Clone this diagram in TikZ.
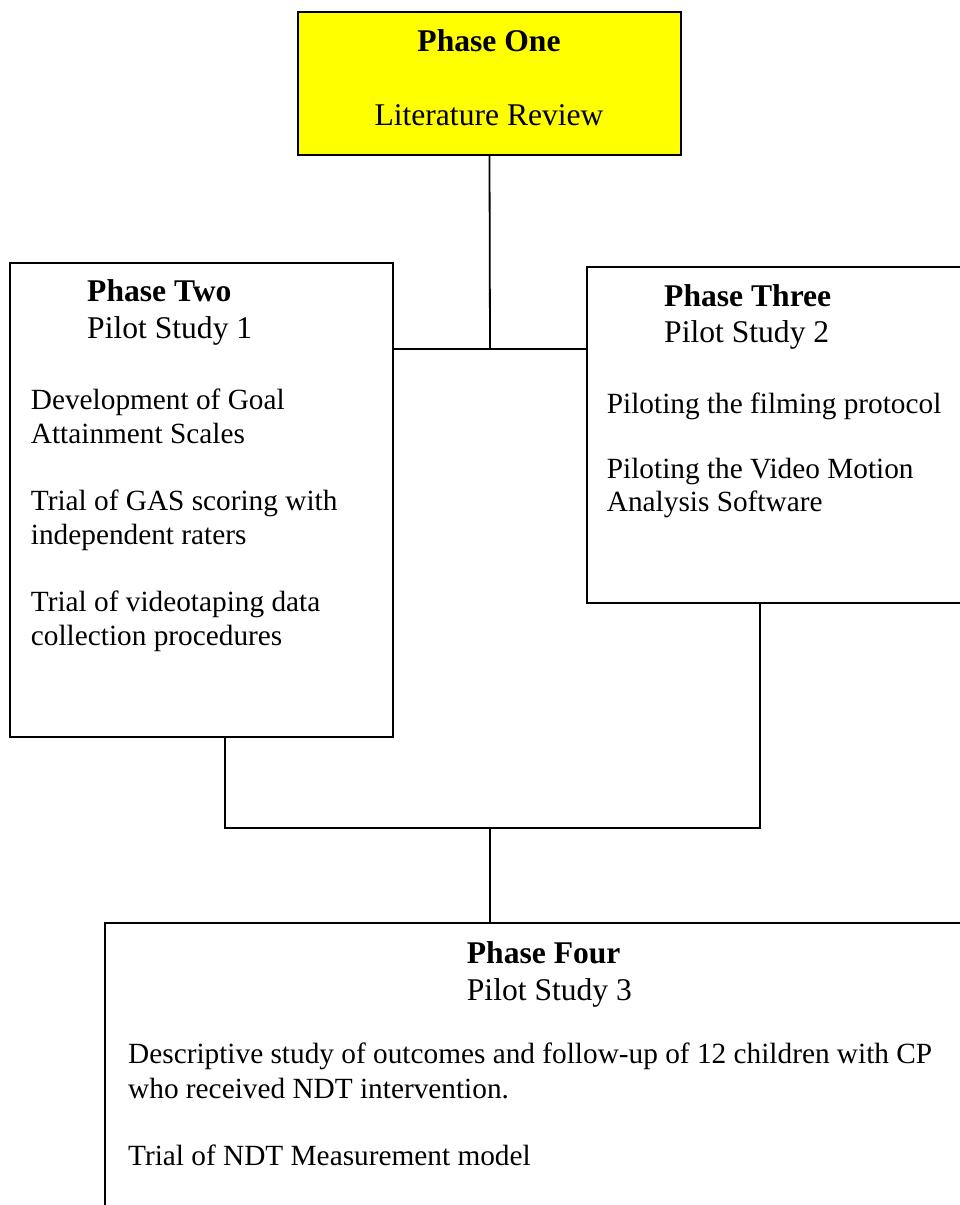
\documentclass[tikz,border=0pt]{standalone}
\usepackage{fontspec}
\setmainfont{Liberation Serif}
\newcommand{\fs}{\fontsize{31.6}{36}\selectfont}
\newcommand{\fb}{\fontsize{29.3}{34}\selectfont}
\definecolor{boxyellow}{RGB}{255,255,0}
\begin{document}
\begin{tikzpicture}[x=1pt,y=-1pt,
  box/.style={draw=black, line width=1.8pt, rectangle, inner sep=0pt},
  txt/.style={anchor=base west, inner sep=0pt, font=\fs},
  hd/.style={txt, font=\fs\bfseries},
  body/.style={txt, font=\fb},
  conn/.style={draw=black, line width=1.8pt}]
\useasboundingbox (0,0) rectangle (960,1205);
\clip (0,0) rectangle (960,1205);
\fill[white] (0,0) rectangle (960,1205);
% boxes
\node[box, fill=boxyellow, minimum width=383pt, minimum height=143pt] (p1) at (489.5,83.5) {};
\node[box, fill=white, minimum width=383pt, minimum height=474pt] (p2) at (201.5,500) {};
\node[box, fill=white, minimum width=388pt, minimum height=336pt] (p3) at (781,435) {};
\node[box, fill=white, minimum width=880pt, minimum height=302pt] (p4) at (545,1074) {};
% junctions
\coordinate (j1) at (490,349);
\coordinate (j2) at (490,828);
\coordinate (j2l) at (225,828);
\coordinate (j2r) at (760,828);
\draw[conn] (p1.south) -- (j1);
\draw[conn] (p2.east |- j1) -- (p3.west |- j1);
\draw[conn] (p2.south -| j2l) -- (j2l) -- (j2r) -- (p3.south -| j2r);
\draw[conn] (j2) -- (p4.north -| j2);
% Phase One
\node[hd, anchor=base] (t1a) at (489,51.7) {Phase One};
\node[txt, anchor=base] (t1b) at (489,125) {Literature Review};
% Phase Two
\node[hd] (t2a) at (87,301.7) {Phase Two};
\node[txt] (t2b) at (87,338.3) {Pilot Study 1};
\node[body] (t2c) at (30.7,409) {Development of Goal};
\node[body] (t2d) at (30.7,443) {Attainment Scales};
\node[body] (t2e) at (30.7,510) {Trial of GAS scoring with};
\node[body] (t2f) at (30.7,544) {independent raters};
\node[body] (t2g) at (30.7,611.7) {Trial of videotaping data};
\node[body] (t2h) at (30.7,645) {collection procedures};
% Phase Three
\node[hd] (t3a) at (664,306.7) {Phase Three};
\node[txt] (t3b) at (664,342.7) {Pilot Study 2};
\node[body] (t3c) at (606.7,413) {Piloting the filming protocol};
\node[body] (t3d) at (606.7,478) {Piloting the Video Motion};
\node[body] (t3e) at (606.7,511.7) {Analysis Software};
% Phase Four
\node[hd] (t4a) at (466.7,963) {Phase Four};
\node[txt] (t4b) at (466.7,1000) {Pilot Study 3};
\node[body] (t4c) at (128,1063) {Descriptive study of outcomes and follow-up of 12 children with CP};
\node[body] (t4d) at (128,1098) {who received NDT intervention.};
\node[body] (t4e) at (128,1165) {Trial of NDT Measurement model};
\end{tikzpicture}
\end{document}
